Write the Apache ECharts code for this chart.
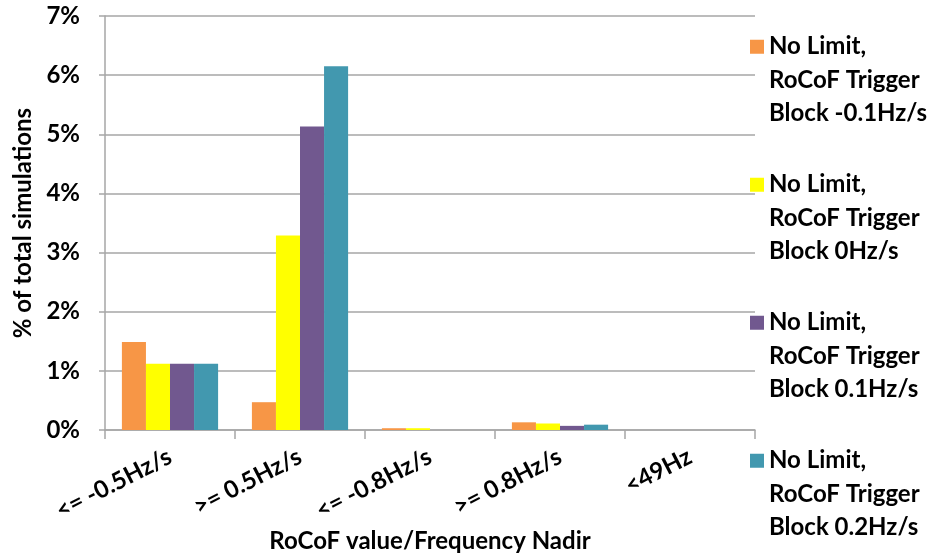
<!DOCTYPE html>
<html>
<head>
<meta charset="utf-8">
<script src="https://cdn.jsdelivr.net/npm/echarts@6/dist/echarts.min.js"></script>
<style>
  html, body { margin: 0; padding: 0; background: #ffffff; }
  #chart { width: 932px; height: 560px; }
</style>
</head>
<body>
<div id="chart"></div>
<script>
// RoCoF / frequency nadir categories
var categories = ['<= -0.5Hz/s', '>= 0.5Hz/s', '<= -0.8Hz/s', '>= 0.8Hz/s', '<49Hz'];

// Share of total simulations (%) per trigger-block setting
var blockMinus01 = [1.49, 0.47, 0.03, 0.13, 0];
var block0       = [1.12, 3.29, 0.03, 0.11, 0];
var block01      = [1.12, 5.13, 0.00, 0.07, 0];
var block02      = [1.12, 6.15, 0.00, 0.09, 0];

var seriesNames = [
  'No Limit,\nRoCoF Trigger\nBlock -0.1Hz/s',
  'No Limit,\nRoCoF Trigger\nBlock 0Hz/s',
  'No Limit,\nRoCoF Trigger\nBlock 0.1Hz/s',
  'No Limit,\nRoCoF Trigger\nBlock 0.2Hz/s'
];
var seriesData = [blockMinus01, block0, block01, block02];
var colors = ['#F79646', '#FFFF00', '#71588F', '#4298AF'];

var FONT = 'Lato';
var gridColor = '#A6A6A6';
var LINE_H = 33.5;
// Legend swatch sits beside the first text line: a 14px square at the top of
// a taller icon box whose lower corner point is an empty (zero-area) segment.
var ICON_H = 2 * LINE_H + 14;
var legendIcon = 'path://M0,0H14V14H0Z M0,' + ICON_H + 'L0,' + ICON_H;

var chart = echarts.init(document.getElementById('chart'), null, { renderer: 'canvas' });

chart.setOption({
  animation: false,
  backgroundColor: '#ffffff',
  color: colors,
  grid: { left: 105, right: 177, top: 16, bottom: 130, containLabel: false },
  legend: {
    orient: 'vertical',
    left: 750,
    top: 30,
    padding: 0,
    itemGap: 37.5,
    itemWidth: 14,
    itemHeight: ICON_H,
    icon: legendIcon,
    selectedMode: false,
    textStyle: {
      fontFamily: FONT,
      fontWeight: 'bold',
      fontSize: 24,
      color: '#000',
      lineHeight: LINE_H
    },
    data: seriesNames
  },
  xAxis: {
    type: 'category',
    data: categories,
    name: 'RoCoF value/Frequency Nadir',
    nameLocation: 'middle',
    nameGap: 99,
    nameTextStyle: { fontFamily: FONT, fontWeight: 'bold', fontSize: 24, color: '#000' },
    axisLine: { lineStyle: { color: gridColor, width: 1.5 } },
    axisTick: { show: true, length: 9, lineStyle: { color: gridColor, width: 1.5 } },
    axisLabel: {
      rotate: 27,
      margin: 25,
      interval: 0,
      fontFamily: FONT,
      fontWeight: 'bold',
      fontSize: 24,
      color: '#000'
    }
  },
  yAxis: {
    type: 'value',
    min: 0,
    max: 7,
    interval: 1,
    name: '% of total simulations',
    nameLocation: 'middle',
    nameGap: 70,
    nameTextStyle: { fontFamily: FONT, fontWeight: 'bold', fontSize: 24, color: '#000' },
    axisLine: { show: true, lineStyle: { color: gridColor, width: 1.5 } },
    axisTick: { show: true, length: 6, lineStyle: { color: gridColor, width: 1.5 } },
    splitLine: { show: true, lineStyle: { color: gridColor, width: 1.5 } },
    axisLabel: {
      margin: 25,
      fontFamily: FONT,
      fontWeight: 'bold',
      fontSize: 24,
      color: '#000',
      formatter: function (v) { return v + '%'; }
    }
  },
  series: seriesData.map(function (d, i) {
    return {
      name: seriesNames[i],
      type: 'bar',
      data: d,
      barGap: '0%',
      barCategoryGap: '26%'
    };
  })
});
</script>
</body>
</html>
